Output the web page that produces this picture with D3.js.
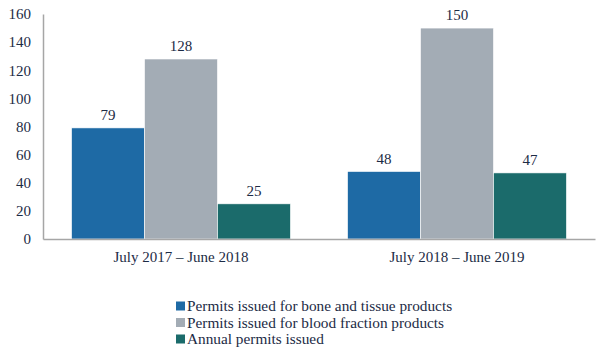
<!DOCTYPE html>
<html><head><meta charset="utf-8">
<script src="https://cdn.jsdelivr.net/npm/d3@7/dist/d3.min.js"></script>
<style>body{margin:0;background:#fff}svg text{font-family:"Liberation Serif","DejaVu Serif",serif;fill:#1c2b45}</style>
</head><body><svg id="c" width="600" height="350"></svg>
<script>
const categories = ["July 2017 \u2013 June 2018", "July 2018 \u2013 June 2019"];
const seriesNames = ["Permits issued for bone and tissue products", "Permits issued for blood fraction products", "Annual permits issued"];
const boneTissue = [79, 48];
const bloodFraction = [128, 150];
const annual = [25, 47];
const yTicks = [0, 20, 40, 60, 80, 100, 120, 140, 160];
const colors = ["#1e6aa5", "#a3acb5", "#1b6b6b"];

const series = [boneTissue, bloodFraction, annual];
const svg = d3.select("#c");
const x0 = d3.scaleBand().domain(categories).range([43, 595]).paddingInner(0.207).paddingOuter(0.1035);
const x1 = d3.scaleBand().domain(d3.range(series.length)).range([0, x0.bandwidth()]);
const y = d3.scaleLinear().domain([0, 160]).range([239, 14]);

const yAxis = svg.append("g").attr("transform", "translate(43,0)")
  .call(d3.axisLeft(y).tickValues(yTicks).tickSize(0).tickPadding(12));
yAxis.select(".domain").attr("stroke", "#a6a6a6").attr("stroke-width", 1.5);
yAxis.selectAll("text").attr("font-size", 15).style("font-family", "Liberation Serif, serif").attr("fill", "#1c2b45");

const g = svg.append("g");
categories.forEach((c, ci) => {
  series.forEach((s, si) => {
    const bx = x0(c) + x1(si);
    g.append("rect").attr("x", bx).attr("y", y(s[ci])).attr("width", x1.bandwidth())
      .attr("height", y(0) - y(s[ci])).attr("fill", colors[si]).attr("stroke", "#ffffff").attr("stroke-width", 0.6);
    g.append("text").attr("x", bx + x1.bandwidth() / 2).attr("y", y(s[ci]) - 8)
      .attr("text-anchor", "middle").attr("font-size", 15).text(s[ci]);
  });
});

const xAxis = svg.append("g").attr("transform", "translate(0,239)")
  .call(d3.axisBottom(x0).tickSize(0).tickPadding(12));
xAxis.select(".domain").attr("stroke", "#a6a6a6").attr("stroke-width", 1.5);
xAxis.selectAll("text").attr("font-size", 15).style("font-family", "Liberation Serif, serif").attr("fill", "#1c2b45");

const leg = svg.append("g").attr("transform", "translate(176,306)");
seriesNames.forEach((n, i) => {
  const r = leg.append("g").attr("transform", `translate(0,${i * 16.5})`);
  r.append("rect").attr("x", 0).attr("y", -4.5).attr("width", 9).attr("height", 9).attr("fill", colors[i]);
  r.append("text").attr("x", 11).attr("y", 5).attr("font-size", 15.3).text(n);
});
</script></body></html>
